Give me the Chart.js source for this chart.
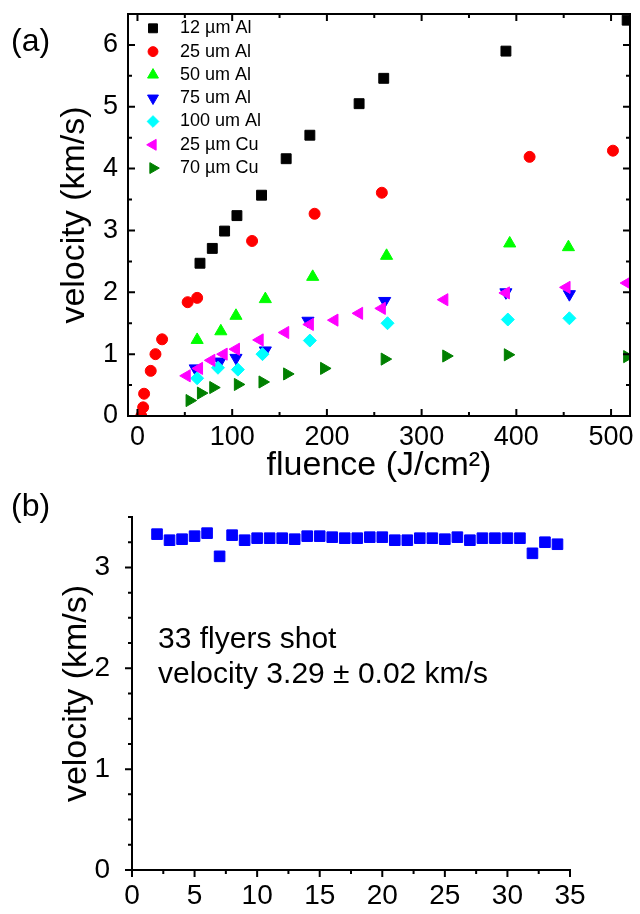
<!DOCTYPE html>
<html>
<head>
<meta charset="utf-8">
<script src="https://cdn.jsdelivr.net/npm/chart.js@4.4.0/dist/chart.umd.min.js"></script>
<style>
  body { margin: 0; background: #fff; }
  #wrap { position: relative; width: 640px; height: 914px; font-family: "Liberation Sans", Arial, sans-serif; color: #000; }
  #chart-a { position: absolute; left: 0; top: 0; }
  #chart-b { position: absolute; left: 0; top: 500px; }
  .lbl { position: absolute; white-space: nowrap; }
</style>
</head>
<body>
<div id="wrap">
  <canvas id="chart-a" width="640" height="500"></canvas>
  <canvas id="chart-b" width="640" height="414"></canvas>
  <div class="lbl" style="left:11px; top:24px; font-size:32px; line-height:32px;">(a)</div>
  <div class="lbl" style="left:11px; top:489px; font-size:32px; line-height:32px;">(b)</div>
  <div class="lbl" style="left:158px; top:620px; font-size:30px; line-height:35px;">33 flyers shot<br>velocity 3.29 ± 0.02 km/s</div>
</div>
<script>
// ---- panel (a): velocity vs fluence ----
const al12X = [66, 79, 92, 105, 131, 157, 182, 234, 260, 389, 517];
const al12Y = [2.47, 2.71, 2.99, 3.24, 3.57, 4.16, 4.54, 5.05, 5.46, 5.90, 6.40];

const al25X = [4, 6, 7, 14, 19, 26, 53, 63, 121, 187, 258, 414, 502];
const al25Y = [0.0, 0.14, 0.36, 0.73, 1.0, 1.24, 1.84, 1.91, 2.83, 3.27, 3.61, 4.19, 4.29];

const al50X = [63, 88, 104, 135, 185, 263, 393, 455];
const al50Y = [1.23, 1.37, 1.62, 1.89, 2.25, 2.59, 2.79, 2.73];

const al75X = [61, 87, 104, 135, 180, 261, 389, 456];
const al75Y = [0.77, 0.88, 0.94, 1.06, 1.54, 1.86, 2.0, 1.97];

const al100X = [63, 85, 106, 132, 182, 264, 391, 456];
const al100Y = [0.61, 0.78, 0.75, 1.0, 1.22, 1.50, 1.56, 1.58];

const cu25X = [52, 65, 78, 91, 104, 129, 156, 182, 208, 234, 258, 324, 389, 453, 517];
const cu25Y = [0.65, 0.77, 0.90, 1.0, 1.08, 1.23, 1.35, 1.48, 1.55, 1.66, 1.74, 1.88, 1.99, 2.08, 2.15];

const cu70X = [55, 67, 80, 106, 132, 158, 197, 261, 326, 391, 517];
const cu70Y = [0.25, 0.37, 0.46, 0.51, 0.55, 0.68, 0.77, 0.92, 0.97, 0.99, 0.96];

const fluenceTicks = [0, 100, 200, 300, 400, 500];
const velocityTicksA = [0, 1, 2, 3, 4, 5, 6];

// ---- panel (b): velocity per shot ----
const shotX = [2, 3, 4, 5, 6, 7, 8, 9, 10, 11, 12, 13, 14, 15, 16, 17, 18, 19, 20, 21, 22, 23, 24, 25, 26, 27, 28, 29, 30, 31, 32, 33, 34];
const shotY = [3.33, 3.27, 3.28, 3.31, 3.34, 3.11, 3.32, 3.27, 3.29, 3.29, 3.29, 3.28, 3.31, 3.31, 3.30, 3.29, 3.29, 3.30, 3.30, 3.27, 3.27, 3.29, 3.29, 3.28, 3.30, 3.27, 3.29, 3.29, 3.29, 3.29, 3.14, 3.25, 3.23];

const shotTicks = [0, 5, 10, 15, 20, 25, 30, 35];
const velocityTicksB = [0, 1, 2, 3];

Chart.defaults.font.family = '"Liberation Sans", Arial, sans-serif';
Chart.defaults.color = '#000';

const toPoints = (xs, ys) => xs.map((x, i) => ({ x: x, y: ys[i] }));

// fixed axis box size, and no extra padding for the end labels
const fixWidth = w => scale => {
	scale.width = w;
	scale.paddingTop = 0;
	scale.paddingBottom = 0;
};
const fixHeight = h => scale => {
	scale.height = h;
	scale.paddingLeft = 0;
	scale.paddingRight = 0;
};

// frame + major/minor tick marks, drawn by hand so they can point inward
const axisTicks = {
	id: 'axisTicks',
	afterDatasetsDraw(chart, args, opts) {
		const { ctx, chartArea: a, scales } = chart;
		const s = opts.inside ? -1 : 1;
		ctx.save();
		ctx.strokeStyle = '#000';
		ctx.lineWidth = 2;
		ctx.lineCap = 'square';
		ctx.beginPath();
		if (opts.box) {
			ctx.rect(a.left, a.top, a.right - a.left, a.bottom - a.top);
		} else {
			ctx.moveTo(a.left, a.top);
			ctx.lineTo(a.left, a.bottom);
			ctx.lineTo(a.right, a.bottom);
		}
		ctx.stroke();

		ctx.lineCap = 'butt';
		const walk = (scale, major, minor, cb) => {
			const start = Math.ceil(scale.min / minor - 1e-9) * minor;
			for (let v = start; v <= scale.max + 1e-9; v += minor) {
				const isMajor = Math.abs(v / major - Math.round(v / major)) < 1e-6;
				cb(scale.getPixelForValue(v), isMajor ? opts.majorLen : opts.minorLen);
			}
		};
		ctx.beginPath();
		walk(scales.x, opts.xMajor, opts.xMinor, (px, len) => {
			ctx.moveTo(px, a.bottom);
			ctx.lineTo(px, a.bottom + s * len);
			if (opts.box) {
				ctx.moveTo(px, a.top);
				ctx.lineTo(px, a.top - s * len);
			}
		});
		walk(scales.y, opts.yMajor, opts.yMinor, (py, len) => {
			ctx.moveTo(a.left, py);
			ctx.lineTo(a.left - s * len, py);
			if (opts.box) {
				ctx.moveTo(a.right, py);
				ctx.lineTo(a.right + s * len, py);
			}
		});
		ctx.stroke();
		ctx.restore();
	}
};

// legend placed inside the plot area, top left
const insideLegend = {
	id: 'insideLegend',
	afterDraw(chart, args, opts) {
		if (!opts.display) return;
		const { ctx, chartArea: a } = chart;
		ctx.save();
		ctx.font = opts.fontSize + 'px "Liberation Sans", Arial, sans-serif';
		ctx.textBaseline = 'middle';
		ctx.lineWidth = 1;
		chart.data.datasets.forEach((ds, i) => {
			const y = a.top + opts.top + i * opts.rowHeight;
			ctx.fillStyle = ds.backgroundColor;
			ctx.strokeStyle = ds.borderColor;
			Chart.helpers.drawPoint(ctx, {
				pointStyle: ds.pointStyle,
				rotation: ds.pointRotation || 0,
				radius: ds.pointRadius * 0.9,
				borderWidth: 1
			}, a.left + opts.markerX, y);
			ctx.fillStyle = '#000';
			ctx.fillText(ds.label, a.left + opts.textX, y);
		});
		ctx.restore();
	}
};

const seriesA = [
	{ label: '12 µm Al', xs: al12X, ys: al12Y, color: '#000000', style: 'rect', r: 7, rot: 0 },
	{ label: '25 um Al', xs: al25X, ys: al25Y, color: '#ff0000', style: 'circle', r: 5.5, rot: 0 },
	{ label: '50 um Al', xs: al50X, ys: al50Y, color: '#00ff00', style: 'triangle', r: 7, rot: 0 },
	{ label: '75 um Al', xs: al75X, ys: al75Y, color: '#0000ff', style: 'triangle', r: 7, rot: 180 },
	{ label: '100 um Al', xs: al100X, ys: al100Y, color: '#00ffff', style: 'rectRot', r: 6.5, rot: 0 },
	{ label: '25 µm Cu', xs: cu25X, ys: cu25Y, color: '#ff00ff', style: 'triangle', r: 7, rot: -90 },
	{ label: '70 µm Cu', xs: cu70X, ys: cu70Y, color: '#008000', style: 'triangle', r: 7, rot: 90 }
];

new Chart(document.getElementById('chart-a'), {
	type: 'scatter',
	data: {
		datasets: seriesA.map((s, i) => ({
			label: s.label,
			data: toPoints(s.xs, s.ys),
			pointStyle: s.style,
			pointRadius: s.r,
			pointRotation: s.rot,
			backgroundColor: s.color,
			borderColor: s.color,
			borderWidth: 1,
			order: -i
		}))
	},
	options: {
		responsive: false,
		animation: false,
		layout: { padding: { top: 14, right: 10, left: 0, bottom: 0 } },
		scales: {
			x: {
				type: 'linear',
				min: -10,
				max: 520,
				afterBuildTicks: scale => { scale.ticks = fluenceTicks.map(v => ({ value: v })); },
				afterFit: fixHeight(84),
				grid: { display: false, drawTicks: false },
				border: { display: false },
				ticks: { font: { size: 27 }, color: '#000', padding: 5, maxRotation: 0 },
				title: {
					display: true,
					text: 'fluence (J/cm²)',
					font: { size: 34 },
					color: '#000',
					padding: { top: 0, bottom: 14 }
				}
			},
			y: {
				type: 'linear',
				min: 0,
				max: 6.5,
				afterBuildTicks: scale => { scale.ticks = velocityTicksA.map(v => ({ value: v })); },
				afterFit: fixWidth(128),
				grid: { display: false, drawTicks: false },
				border: { display: false },
				ticks: { font: { size: 27 }, color: '#000', padding: 10 },
				title: {
					display: true,
					text: 'velocity (km/s)',
					font: { size: 34 },
					color: '#000',
					padding: { top: 54, bottom: 0 }
				}
			}
		},
		plugins: {
			legend: { display: false },
			tooltip: { enabled: false },
			axisTicks: { inside: true, box: true, xMajor: 100, xMinor: 50, yMajor: 1, yMinor: 0.5, majorLen: 7, minorLen: 4 },
			insideLegend: { display: true, top: 14.3, rowHeight: 23.3, markerX: 25, textX: 52, fontSize: 18 }
		}
	},
	plugins: [axisTicks, insideLegend]
});

new Chart(document.getElementById('chart-b'), {
	type: 'scatter',
	data: {
		datasets: [{
			label: 'velocity',
			data: toPoints(shotX, shotY),
			pointStyle: 'rect',
			pointRadius: 7.5,
			backgroundColor: '#0000ff',
			borderColor: '#0000ff',
			borderWidth: 1
		}]
	},
	options: {
		responsive: false,
		animation: false,
		layout: { padding: { top: 17, right: 70, left: 0, bottom: 0 } },
		scales: {
			x: {
				type: 'linear',
				min: 0,
				max: 35,
				afterBuildTicks: scale => { scale.ticks = shotTicks.map(v => ({ value: v })); },
				afterFit: fixHeight(44),
				grid: { display: false, drawTicks: false },
				border: { display: false },
				ticks: { font: { size: 28 }, color: '#000', padding: 9, maxRotation: 0 }
			},
			y: {
				type: 'linear',
				min: 0,
				max: 3.5,
				afterBuildTicks: scale => { scale.ticks = velocityTicksB.map(v => ({ value: v })); },
				afterFit: fixWidth(132),
				grid: { display: false, drawTicks: false },
				border: { display: false },
				ticks: { font: { size: 28 }, color: '#000', padding: 22 },
				title: {
					display: true,
					text: 'velocity (km/s)',
					font: { size: 34 },
					color: '#000',
					padding: { top: 56, bottom: 0 }
				}
			}
		},
		plugins: {
			legend: { display: false },
			tooltip: { enabled: false },
			axisTicks: { inside: false, box: false, xMajor: 5, xMinor: 2.5, yMajor: 1, yMinor: 0.25, majorLen: 7, minorLen: 4 },
			insideLegend: { display: false }
		}
	},
	plugins: [axisTicks, insideLegend]
});
</script>
</body>
</html>
